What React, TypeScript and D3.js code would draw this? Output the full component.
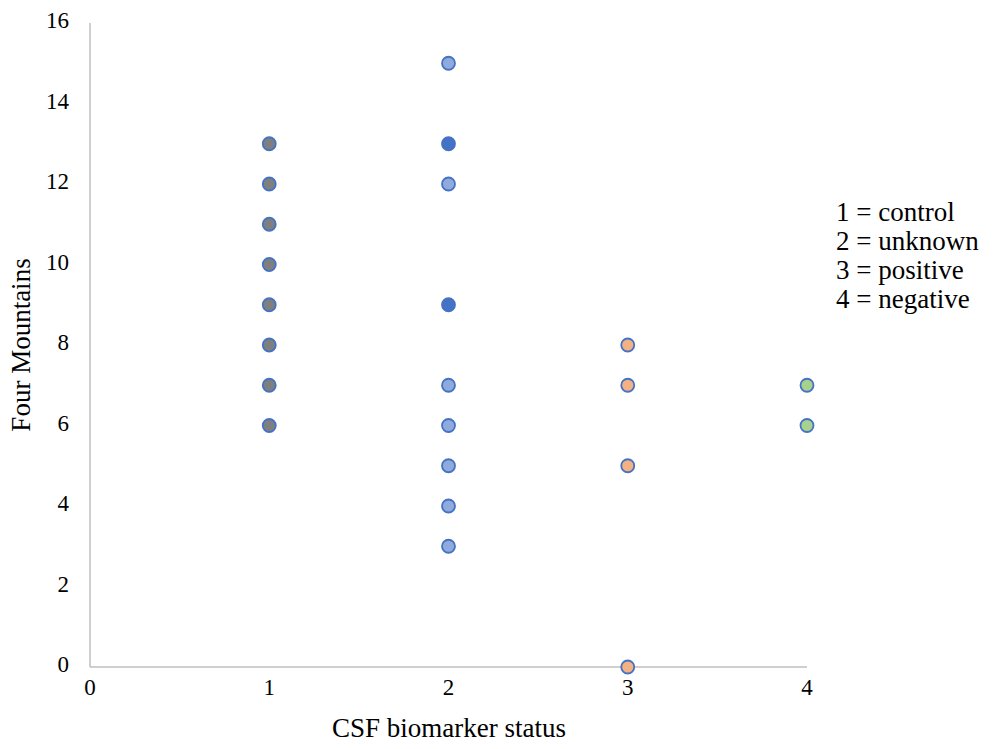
import React from "react";
import * as d3 from "d3";

const xTicks = [0, 1, 2, 3, 4];
const yTicks = [0, 2, 4, 6, 8, 10, 12, 14, 16];

const controlY = [13, 12, 11, 10, 9, 8, 7, 6];
const unknownY = [15, 12, 7, 6, 5, 4, 3];
const unknownDupY = [13, 9];
const positiveY = [8, 7, 5, 0];
const negativeY = [7, 6];

const legendLines = ["1 = control", "2 = unknown", "3 = positive", "4 = negative"];

const groups = [
  { x: 1, ys: controlY, fill: "#7F7F7F" },
  { x: 2, ys: unknownY, fill: "#8FAADC" },
  { x: 2, ys: unknownDupY, fill: "#4472C4" },
  { x: 3, ys: positiveY, fill: "#F4B183" },
  { x: 4, ys: negativeY, fill: "#A9D18E" },
];

export default function App() {
  const W = 994, H = 749;
  const x = d3.scaleLinear().domain([0, 4]).range([90, 807]);
  const y = d3.scaleLinear().domain([0, 16]).range([667, 23]);
  const font = "'Times New Roman', 'Liberation Serif', serif";
  return (
    <svg width={W} height={H} style={{ position: "absolute", left: 0, top: 0 }}>
      <rect width={W} height={H} fill="#fff" />
      <line x1={x(0)} x2={x(0)} y1={y(0)} y2={y(16)} stroke="#BFBFBF" strokeWidth={1.5} />
      <line x1={x(0)} x2={x(4)} y1={y(0)} y2={y(0)} stroke="#BFBFBF" strokeWidth={1.5} />
      {yTicks.map((t) => (
        <text key={"y" + t} x={69} y={y(t)} textAnchor="end" dominantBaseline="middle"
          fontFamily={font} fontSize={23} fill="#000">{t}</text>
      ))}
      {xTicks.map((t) => (
        <text key={"x" + t} x={x(t)} y={690} textAnchor="middle" dominantBaseline="middle"
          fontFamily={font} fontSize={23} fill="#000">{t}</text>
      ))}
      {groups.map((g, gi) =>
        g.ys.map((v, i) => (
          <circle key={gi + "-" + i} cx={x(g.x)} cy={y(v)} r={6.5} fill={g.fill}
            stroke="#4472C4" strokeWidth={1.8} />
        ))
      )}
      <text x={449} y={731} textAnchor="middle" dominantBaseline="middle"
        fontFamily={font} fontSize={27} fill="#000">CSF biomarker status</text>
      <text transform={`translate(24,345) rotate(-90)`} textAnchor="middle" dominantBaseline="middle"
        fontFamily={font} fontSize={27} fill="#000">Four Mountains</text>
      {legendLines.map((l, i) => (
        <text key={l} x={836} y={215 + i * 29} dominantBaseline="middle"
          fontFamily={font} fontSize={27} fill="#000">{l}</text>
      ))}
    </svg>
  );
}
